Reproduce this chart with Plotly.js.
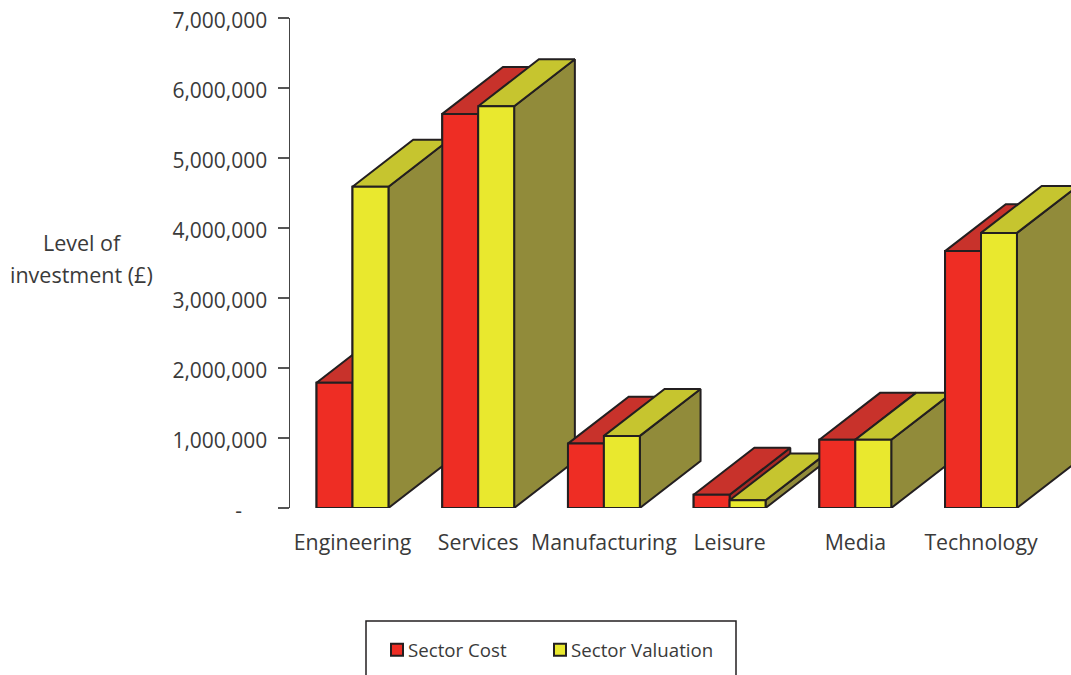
<!DOCTYPE html>
<html><head><meta charset="utf-8">
<script src="https://cdn.plot.ly/plotly-3.0.1.min.js"></script>
<style>html,body{margin:0;padding:0;background:#fff;overflow:hidden}</style>
</head><body><div id="chart" style="width:1071px;height:675px"></div>
<script>
const categories = ['Engineering','Services','Manufacturing','Leisure','Media','Technology'];
const sectorCost = [1790000,5630000,920000,190000,975000,3670000];
const sectorValuation = [4590000,5740000,1030000,110000,975000,3930000];
const yTickVals = [0,1000000,2000000,3000000,4000000,5000000,6000000,7000000];
const yTickText = ['-\u00a0\u00a0\u00a0\u00a0\u2009','1,000,000','2,000,000','3,000,000','4,000,000','5,000,000','6,000,000','7,000,000'];

const barW = 0.286, depthX = 0.483, depthY = 670000;
const INK = '#231f20', TEXT = '#3a3a3a', FONT = '"Open Sans", Lato, sans-serif';
const styles = {
  cost: {front:'#ee2d24', top:'#c8322b', side:'#a82a25'},
  val:  {front:'#e9e82e', top:'#c6c52f', side:'#918b3a'}
};
const positions = categories.map((_, i) => i);
const traces = [];
traces.push({type:'bar', name:'Sector Cost', x:positions, y:sectorCost, width:barW, offset:-barW,
  marker:{color:styles.cost.front, line:{color:INK,width:2}}, cliponaxis:false});
traces.push({type:'bar', name:'Sector Valuation', x:positions, y:sectorValuation, width:barW, offset:0,
  marker:{color:styles.val.front, line:{color:INK,width:2}}, cliponaxis:false});

function poly(xs, ys, color){
  traces.push({type:'scatter', mode:'lines', x:[...xs, xs[0]], y:[...ys, ys[0]], fill:'toself', fillcolor:color,
    line:{color:INK,width:2,shape:'linear'}, showlegend:false, cliponaxis:false, hoverinfo:'skip'});
}
function box(x0, v, s){
  const x1 = x0 + barW;
  poly([x1, x1+depthX, x1+depthX, x1], [0, depthY, v+depthY, v], s.side);
  poly([x0, x0+depthX, x1+depthX, x1], [v, v+depthY, v+depthY, v], s.top);
  poly([x0, x1, x1, x0], [0, 0, v, v], s.front);
}
positions.forEach(i => {
  box(i-barW, sectorCost[i], styles.cost);
  box(i, sectorValuation[i], styles.val);
});

const left = 290, top0 = 18, plotW = 781, plotH = 490;
const layout = {
  width:1071, height:675, autosize:false,
  margin:{l:left, r:0, t:top0, b:167, pad:0},
  paper_bgcolor:'#fff', plot_bgcolor:'rgba(0,0,0,0)',
  barmode:'overlay', hovermode:false,
  font:{family:FONT, color:TEXT, size:20},
  xaxis:{type:'linear', range:[-62.5/125.7, 718.5/125.7], tickmode:'array', tickvals:positions, ticktext:categories,
    showgrid:false, zeroline:false, showline:false, ticks:'', ticklabelstandoff:20, tickfont:{family:FONT,size:21.3,color:TEXT}},
  yaxis:{range:[0,7000000], tickmode:'array', tickvals:yTickVals, ticktext:yTickText, showgrid:false, zeroline:false,
    showline:true, linecolor:'#444', linewidth:1.5, ticks:'outside', ticklen:11, tickcolor:'#555', tickwidth:1.5,
    ticklabelstandoff:6, ticklabelshift:3, tickfont:{family:FONT,size:21,color:TEXT}},
  legend:{orientation:'h', x:(377-left)/plotW, xanchor:'left', y:(508-650)/plotH, yanchor:'middle',
    bgcolor:'rgba(0,0,0,0)', borderwidth:0, font:{family:FONT,size:18.7,color:TEXT}, entrywidth:118, entrywidthmode:'pixels', itemwidth:30},
  shapes:[{type:'rect', xref:'paper', yref:'paper', x0:(366-left)/plotW, x1:(736-left)/plotW,
    y0:(508-690)/plotH, y1:(508-621)/plotH, line:{color:INK,width:1.5}, fillcolor:'rgba(0,0,0,0)'}],
  annotations:[
    {xref:'paper', yref:'paper', x:(82-left)/plotW, y:(508-242)/plotH, text:'Level of', showarrow:false, xanchor:'center', yanchor:'middle', font:{family:FONT,size:21.5,color:TEXT}},
    {xref:'paper', yref:'paper', x:(81-left)/plotW, y:(508-274)/plotH, text:'investment (£)', showarrow:false, xanchor:'center', yanchor:'middle', font:{family:FONT,size:21.5,color:TEXT}}
  ]
};
Plotly.newPlot('chart', traces, layout, {staticPlot:true, displayModeBar:false}).then(() => {
  // Tighten the gap between legend swatch and label, and let the longer label run to its full width
  document.querySelectorAll('.legendtext').forEach(t => {
    t.setAttribute('x', String(parseFloat(t.getAttribute('x')) - 9));
  });
  document.querySelectorAll('.legend [clip-path], .legend .scrollbox').forEach(el => {
    el.removeAttribute('clip-path');
    el.style.clipPath = 'none';
  });
});
</script></body></html>
